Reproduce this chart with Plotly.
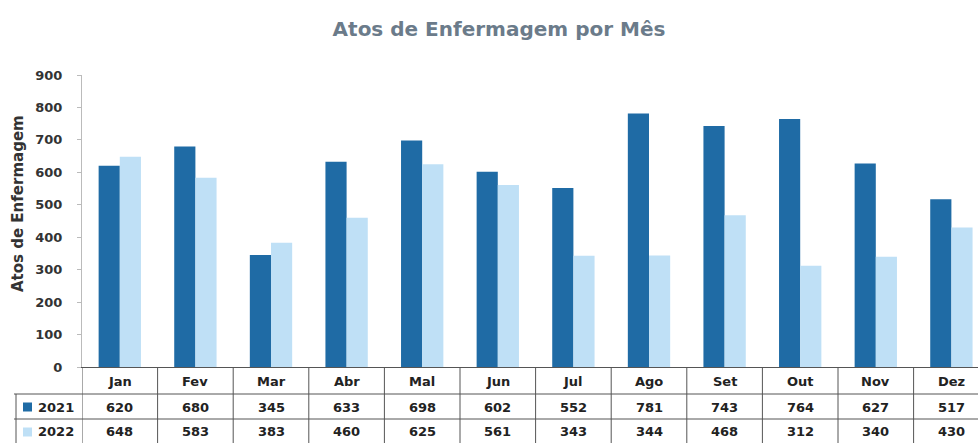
import plotly.graph_objects as go

months = ["Jan", "Fev", "Mar", "Abr", "Mal", "Jun", "Jul", "Ago", "Set", "Out", "Nov", "Dez"]
series_names = ["2021", "2022"]
values_2021 = [620, 680, 345, 633, 698, 602, 552, 781, 743, 764, 627, 517]
values_2022 = [648, 583, 383, 460, 625, 561, 343, 344, 468, 312, 340, 430]
y_ticks = [0, 100, 200, 300, 400, 500, 600, 700, 800, 900]

colors = ["#1F6BA5", "#BFE0F6"]
FONT = "DejaVu Sans"
W, H = 978, 443
ML, MR, MT, MB = 82, 0, 75, 76
PW = W - ML - MR
PH = H - MT - MB

def py(p):
    return (H - MB - p) / PH

def px(p):
    return (p - ML) / PW

fig = go.Figure()
for name, vals, c in zip(series_names, [values_2021, values_2022], colors):
    fig.add_trace(go.Bar(x=list(range(len(months))), y=vals, name=name,
                         marker=dict(color=c, line=dict(width=0)), hoverinfo="skip"))

shapes = []
ann = []
grid = dict(color="#555555", width=1)
for i in range(len(months) + 1):
    shapes.append(dict(type="line", xref="x", yref="paper", x0=i - 0.5, x1=i - 0.5,
                       y0=0, y1=py(450), line=grid))
shapes.append(dict(type="line", xref="paper", yref="paper", x0=px(16), x1=px(16),
                   y0=py(394), y1=py(450), line=grid))
for yy in [394, 419]:
    shapes.append(dict(type="line", xref="paper", yref="paper", x0=px(14), x1=1.02,
                       y0=py(yy), y1=py(yy), line=grid))

row_y = [py(381), py(407), py(432)]
tfont = dict(family=FONT, size=13, color="#222222")
common = dict(showarrow=False, xanchor="center", yanchor="middle", font=tfont)
for i, m in enumerate(months):
    ann.append(dict(x=i, y=row_y[0], xref="x", yref="paper", text="<b>%s</b>" % m, **common))
    ann.append(dict(x=i, y=row_y[1], xref="x", yref="paper", text="<b>%d</b>" % values_2021[i], **common))
    ann.append(dict(x=i, y=row_y[2], xref="x", yref="paper", text="<b>%d</b>" % values_2022[i], **common))

for k, (name, c) in enumerate(zip(series_names, colors)):
    yc = row_y[k + 1]
    shapes.append(dict(type="rect", xref="paper", yref="paper", x0=px(23), x1=px(32),
                       y0=yc - 4.5 / PH, y1=yc + 4.5 / PH, fillcolor=c, line=dict(width=0)))
    ann.append(dict(x=px(36), y=yc, xref="paper", yref="paper", text="<b>%s</b>" % name,
                    showarrow=False, xanchor="left", yanchor="middle", font=tfont))

ann.append(dict(x=px(18), y=py(204), xref="paper", yref="paper", text="<b>Atos de Enfermagem</b>",
                textangle=-90, showarrow=False, xanchor="center", yanchor="middle",
                font=dict(family=FONT, size=15, color="#333333")))

fig.update_layout(
    width=W, height=H,
    margin=dict(l=ML, r=MR, t=MT, b=MB),
    paper_bgcolor="white", plot_bgcolor="white",
    barmode="group", bargap=0.44, bargroupgap=0,
    showlegend=False, hovermode=False,
    title=dict(text="<b>Atos de Enfermagem por Mês</b>", x=499 / W, xanchor="center",
               y=1 - 29 / H, yanchor="middle",
               font=dict(family=FONT, size=20, color="#6B7B8A")),
    xaxis=dict(range=[-0.5, -0.5 + PW / 75.6], showticklabels=False, ticks="",
               showgrid=False, zeroline=False, showline=True, linecolor="#555555", linewidth=1),
    yaxis=dict(range=[0, 900], tickvals=y_ticks, showgrid=False, zeroline=False,
               showline=True, linecolor="#BBBBBB", linewidth=1, ticks="outside", ticklen=4,
               tickcolor="#BBBBBB", ticklabelstandoff=12,
               tickfont=dict(family=FONT, size=13, color="#333333", weight="bold")),
    shapes=shapes, annotations=ann,
)
fig.write_html("out.html", config={"displayModeBar": False, "staticPlot": True})

with open("out.html", "r", encoding="utf-8") as f:
    html = f.read()
html = html.replace("<body>", '<body style="margin:0;padding:0;overflow:hidden">', 1)
with open("out.html", "w", encoding="utf-8") as f:
    f.write(html)
